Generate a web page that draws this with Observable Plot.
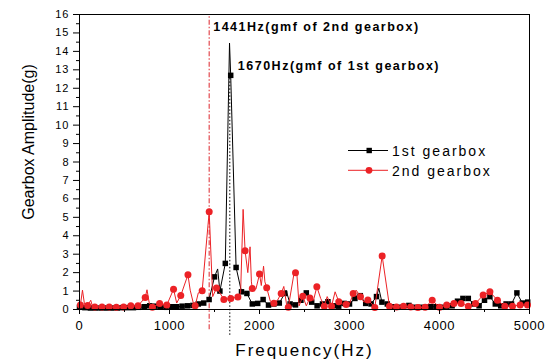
<!DOCTYPE html>
<html><head><meta charset="utf-8">
<script src="https://cdn.jsdelivr.net/npm/d3@7"></script>
<script src="https://cdn.jsdelivr.net/npm/@observablehq/plot@0.6"></script>
<style>
body{margin:0;background:#fff;}
#chart{position:relative;width:556px;height:363px;font-family:"Liberation Sans",Arial,sans-serif;}
#chart svg{display:block}
#legend{position:absolute;left:0;top:0;pointer-events:none}
</style></head><body><div id="chart"></div>
<script>
// ---- data ----
const xTicks = [0, 1000, 2000, 3000, 4000, 5000];
const xMinor = [500, 1500, 2500, 3500, 4500];
const yTicks = [0,1,2,3,4,5,6,7,8,9,10,11,12,13,14,15,16];
const yMinor = [0.5,1.5,2.5,3.5,4.5,5.5,6.5,7.5,8.5,9.5,10.5,11.5,12.5,13.5,14.5,15.5];
const seriesNames = ["1st gearbox", "2nd gearbox"];
const refFreqs = [1441, 1670];
const annotations = ["1441Hz(gmf of 2nd gearbox)", "1670Hz(gmf of 1st gearbox)"];
const annotationY = [15.1, 13.0];
const xTitle = "Frequency(Hz)";
const yTitle = "Gearbox Amplitude(g)";

// 1st gearbox (black, squares)
const blackMarkF = [0,60,120,180,240,300,360,420,480,540,600,660,720,780,840,900,960,1020,1080,1140,1200,1260,1320,1380,1440,1500,1560,1620,1680,1740,1800,1860,1920,1980,2040,2100,2160,2220,2280,2340,2400,2460,2520,2580,2640,2700,2760,2820,2880,2940,3000,3060,3120,3180,3240,3300,3360,3420,3480,3540,3600,3660,3720,3780,3840,3900,3960,4020,4080,4140,4200,4260,4320,4380,4440,4500,4560,4620,4680,4740,4800,4860,4920,4980];
const blackMarkA = [0.12,0.1,0.08,0.08,0.08,0.08,0.08,0.08,0.1,0.1,0.1,0.12,0.15,0.2,0.18,0.15,0.12,0.15,0.15,0.18,0.2,0.22,0.3,0.35,0.54,1.77,1.0,2.5,12.7,2.28,0.96,0.87,0.3,0.33,0.54,0.24,0.3,0.35,0.87,0.3,0.25,0.5,0.9,0.4,0.2,0.3,0.42,0.2,0.18,0.33,0.3,0.6,0.75,0.33,0.3,0.7,0.4,0.3,0.15,0.12,0.15,0.22,0.12,0.12,0.12,0.15,0.15,0.12,0.18,0.2,0.45,0.6,0.6,0.3,0.2,0.5,0.7,0.3,0.2,0.3,0.3,0.9,0.35,0.4];
const blackExtraF = [1535, 1667, 2295, 2490, 3090, 3326, 4290];
const blackExtraA = [2.2, 14.45, 1.05, 0.85, 0.8, 1.15, 0.65];

// 2nd gearbox (red, circles)
const redMarkF = [10,90,170,250,330,410,490,570,650,730,810,890,970,1045,1125,1205,1285,1363,1441,1522,1604,1681,1760,1840,1920,2000,2080,2160,2241,2320,2400,2481,2560,2637,2720,2800,2881,2963,3041,3122,3204,3281,3363,3444,3522,3600,3680,3760,3840,3919,4000,4080,4160,4240,4320,4400,4485,4560,4644,4726,4811,4896,4978];
const redMarkA = [0.24,0.22,0.14,0.14,0.14,0.12,0.14,0.2,0.2,0.65,0.12,0.32,0.24,1.1,0.76,1.88,0.2,1.02,5.3,1.16,0.54,0.6,0.68,3.18,1.14,1.92,1.18,0.34,0.87,0.12,2.0,0.72,0.63,1.23,0.18,0.18,0.42,0.27,0.87,0.69,0.51,0.11,2.9,0.18,0.14,0.18,0.14,0.11,0.12,0.5,0.12,0.24,0.33,0.33,0.18,0.33,0.78,0.96,0.5,0.18,0.18,0.24,0.24];
const redExtraF = [33,55,125,145,750,775,1080,1230,1262,1320,1480,1560,1790,1818,1870,1895,1910,1960,2020,2045,2060,2120,2200,2270,2300,2385,2415,2440,2520,2600,2680,2752,2840,2920,3000,3074,3160,3240];
const redExtraA = [1.05,0.3,0.5,0.15,1.07,0.35,0.35,1.05,0.4,0.9,0.7,0.9,0.9,5.43,2.0,3.4,1.5,1.1,1.3,2.35,1.5,0.45,0.5,1.25,0.3,2.0,1.95,0.2,0.2,0.5,0.6,0.7,0.96,0.3,0.3,1.05,0.4,0.35];

const RED = "#ec2226";
const RED_REF = "#e2494f";

const rows = (F, A) => F.map((f, i) => ({f, a: A[i]}));
const blackMarks = rows(blackMarkF, blackMarkA);
const blackLine = blackMarks.concat(rows(blackExtraF, blackExtraA)).sort((p, q) => p.f - q.f);
const redMarks = rows(redMarkF, redMarkA);
const redLine = redMarks.concat(rows(redExtraF, redExtraA)).sort((p, q) => p.f - q.f);

const plot = Plot.plot({
  width: 556, height: 363,
  marginLeft: 79, marginRight: 27, marginTop: 14, marginBottom: 54,
  x: {domain: [0, 5000], label: null},
  y: {domain: [0, 16], label: null},
  style: {fontFamily: '"Liberation Sans", Arial, sans-serif', color: "#000", background: "#fff", overflow: "visible"},
  marks: [
    Plot.ruleX([refFreqs[0]], {x: d => d, y1: -1.1, y2: 16, stroke: RED_REF, strokeWidth: 1.2, strokeDasharray: "5,2,1.5,2"}),
    Plot.line(blackLine, {x: "f", y: "a", stroke: "#000", strokeWidth: 1}),
    Plot.dot(blackMarks, {x: "f", y: "a", symbol: "square", r: 3.1, fill: "#000", stroke: "none"}),
    Plot.ruleX([refFreqs[1]], {x: d => d, y1: -1.4, y2: 12.7, stroke: "#000", strokeWidth: 1, strokeDasharray: "1.5,2"}),
    Plot.line(redLine, {x: "f", y: "a", stroke: RED, strokeWidth: 1}),
    Plot.dot(redMarks, {x: "f", y: "a", r: 3.5, fill: RED, stroke: "none"}),
    Plot.frame({stroke: "#000", strokeWidth: 1}),
    Plot.axisX({ticks: xTicks, tickSize: 5, tickPadding: 6, fontSize: 13, tickFormat: "d", label: null}),
    Plot.axisX({ticks: xMinor, tickSize: 3, tickFormat: () => "", label: null}),
    Plot.axisY({ticks: yTicks, tickSize: 6, tickPadding: 4, fontSize: 11, tickFormat: "d", label: null}),
    Plot.axisY({ticks: yMinor, tickSize: 3, tickFormat: () => "", label: null}),
    Plot.text([annotations[0]], {x: refFreqs[0], y: annotationY[0], text: d => d, textAnchor: "start", lineAnchor: "bottom", dx: 4, fontSize: 12.5, fontWeight: "bold"}),
    Plot.text([annotations[1]], {x: refFreqs[1], y: annotationY[1], text: d => d, textAnchor: "start", lineAnchor: "bottom", dx: 8, fontSize: 12.5, fontWeight: "bold"}),
    Plot.text([xTitle], {frameAnchor: "bottom", textAnchor: "middle", dy: 41, fontSize: 17, lineAnchor: "middle"}),
    Plot.text([yTitle], {frameAnchor: "left", textAnchor: "middle", dx: -51, dy: -20, rotate: -90, fontSize: 16, lineAnchor: "middle"})
  ]
});
const chart = document.getElementById("chart");
chart.appendChild(plot);
const svg = d3.select(plot);
svg.selectAll('g[aria-label="x-axis tick label"]').attr("letter-spacing", "0.6px");
svg.selectAll('g[aria-label="y-axis tick label"]').attr("letter-spacing", "1px");
svg.selectAll("text").each(function () {
  const t = this.textContent;
  if (annotations.includes(t)) d3.select(this).attr("letter-spacing", "1.5px");
  if (t === xTitle) d3.select(this).attr("letter-spacing", "2px");
});

// legend overlay
const lg = d3.select(chart).append("svg").attr("id", "legend").attr("width", 556).attr("height", 363)
  .style("font-family", '"Liberation Sans", Arial, sans-serif');
const legendRows = [
  {name: seriesNames[0], color: "#000", symbol: "square", y: 150.5},
  {name: seriesNames[1], color: RED, symbol: "circle", y: 170.3}
];
for (const r of legendRows) {
  lg.append("line").attr("x1", 348).attr("x2", 388).attr("y1", r.y).attr("y2", r.y).attr("stroke", r.color).attr("stroke-width", 1);
  if (r.symbol === "square") lg.append("rect").attr("x", 366.5).attr("y", r.y - 2.7).attr("width", 5.4).attr("height", 5.4).attr("fill", r.color);
  else lg.append("circle").attr("cx", 369).attr("cy", r.y).attr("r", 3.4).attr("fill", r.color);
  lg.append("text").attr("x", 392).attr("y", r.y + 5.2).attr("font-size", 14).attr("letter-spacing", "2px").attr("fill", "#000").text(r.name);
}
</script></body></html>
